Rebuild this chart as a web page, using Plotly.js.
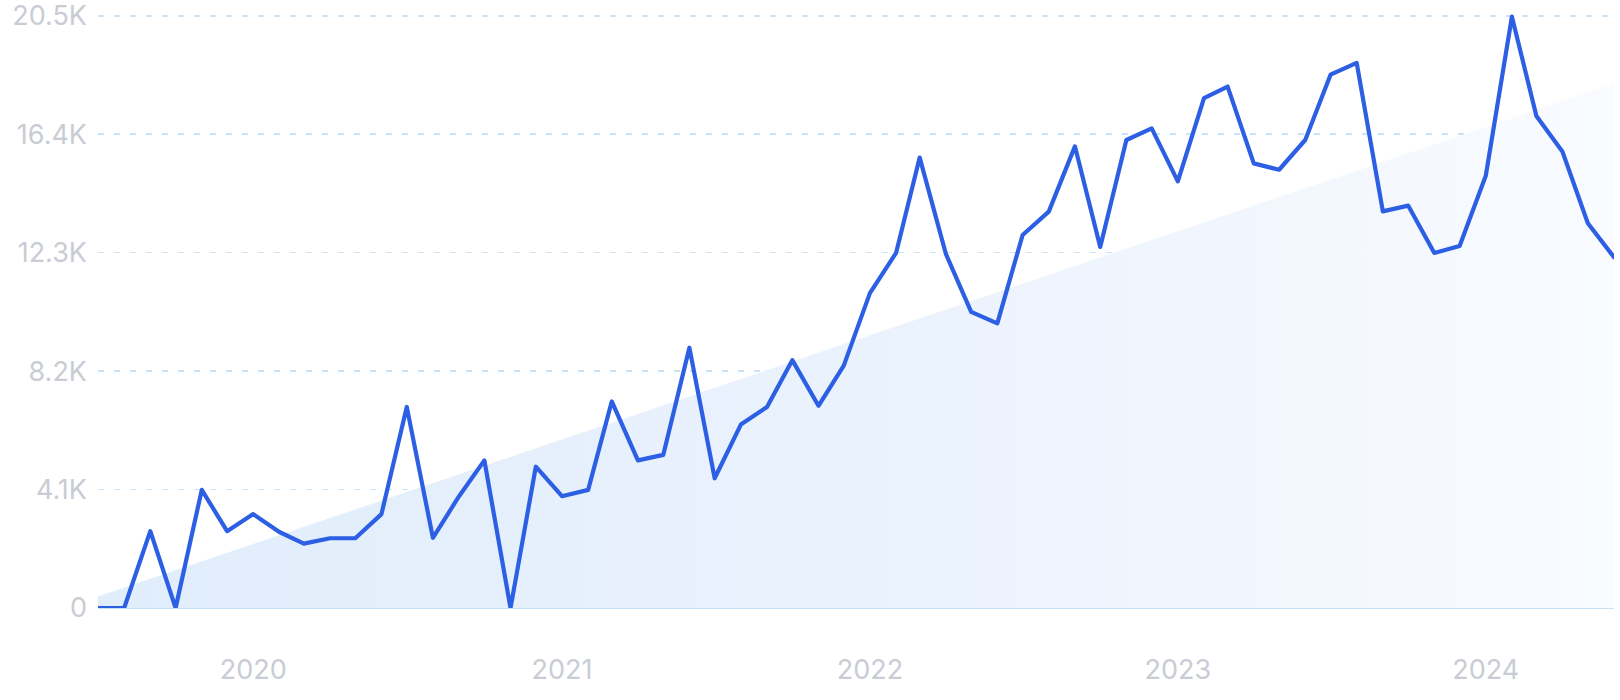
<!DOCTYPE html>
<html>
<head>
<meta charset="utf-8">
<script src="https://cdn.plot.ly/plotly-3.0.1.min.js"></script>
<style>
  html, body { margin: 0; padding: 0; background: #ffffff; }
  #chart { width: 1620px; height: 700px; }
  #chart .scatterlayer .js-line { stroke-linejoin: round; stroke-linecap: round; }
</style>
</head>
<body>
<div id="chart"></div>
<script>
// Monthly search volume (Jul 2019 – Jun 2024)
const months = [
  '2019-07-01','2019-08-01','2019-09-01','2019-10-01','2019-11-01','2019-12-01',
  '2020-01-01','2020-02-01','2020-03-01','2020-04-01','2020-05-01','2020-06-01',
  '2020-07-01','2020-08-01','2020-09-01','2020-10-01','2020-11-01','2020-12-01',
  '2021-01-01','2021-02-01','2021-03-01','2021-04-01','2021-05-01','2021-06-01',
  '2021-07-01','2021-08-01','2021-09-01','2021-10-01','2021-11-01','2021-12-01',
  '2022-01-01','2022-02-01','2022-03-01','2022-04-01','2022-05-01','2022-06-01',
  '2022-07-01','2022-08-01','2022-09-01','2022-10-01','2022-11-01','2022-12-01',
  '2023-01-01','2023-02-01','2023-03-01','2023-04-01','2023-05-01','2023-06-01',
  '2023-07-01','2023-08-01','2023-09-01','2023-10-01','2023-11-01','2023-12-01',
  '2024-01-01','2024-02-01','2024-03-01','2024-04-01','2024-05-01','2024-06-01'
];
const volume = [
  0, 0, 2660, 0, 4090, 2660,
  3250, 2630, 2230, 2415, 2415, 3250,
  6960, 2430, 3870, 5110, 0, 4890,
  3870, 4090, 7150, 5110, 5300, 9010,
  4490, 6350, 6960, 8580, 7000, 8390,
  10900, 12290, 15590, 12260, 10250, 9850,
  12910, 13720, 15980, 12500, 16200, 16600,
  14770, 17650, 18050, 15390, 15170, 16200,
  18460, 18870, 13730, 13930, 12290, 12530,
  14960, 20470, 17030, 15790, 13320, 12140
];
// Trend line endpoints
const trendX = ['2019-07-01', '2024-06-01'];
const trendY = [400, 18150];
// Axis ticks
const yTickVals = [0, 4100, 8200, 12300, 16400, 20500];
const yTickText = ['0', '4.1K', '8.2K', '12.3K', '16.4K', '20.5K'];
const xTickVals = ['2020-01-01', '2021-01-01', '2022-01-01', '2023-01-01', '2024-01-01'];
const xTickText = ['2020', '2021', '2022', '2023', '2024'];

const fontFamily = 'Inter, Lato, "Noto Sans", sans-serif';
const labelColor = '#c9ccd4';

const traces = [
  {
    type: 'scatter',
    mode: 'lines',
    x: trendX,
    y: trendY,
    line: { width: 0, color: 'rgba(0,0,0,0)' },
    fill: 'tozeroy',
    fillcolor: '#e6f0fc',
    fillgradient: {
      type: 'horizontal',
      colorscale: [[0, '#e0edfb'], [0.5, '#eaf2fd'], [1, '#f9fbff']]
    },
    hoverinfo: 'skip',
    showlegend: false
  },
  {
    type: 'scatter',
    mode: 'lines',
    x: months,
    y: volume,
    line: { color: '#2d5fe4', width: 4.2, shape: 'linear' },
    showlegend: false
  }
];

const layout = {
  width: 1620,
  height: 700,
  margin: { l: 98, r: 6, t: 10, b: 92 },
  paper_bgcolor: '#ffffff',
  plot_bgcolor: '#ffffff',
  showlegend: false,
  font: { family: fontFamily, color: labelColor, size: 27 },
  xaxis: {
    type: 'date',
    range: ['2019-07-01', '2024-06-01'],
    tickmode: 'array',
    tickvals: xTickVals,
    ticktext: xTickText,
    showgrid: false,
    zeroline: false,
    showline: false,
    ticks: '',
    ticklabelstandoff: 43,
    tickfont: { family: fontFamily, size: 27, color: labelColor },
    fixedrange: true
  },
  yaxis: {
    range: [0, 20700],
    tickmode: 'array',
    tickvals: yTickVals,
    ticktext: yTickText,
    showgrid: true,
    gridcolor: '#c8e4fa',
    gridwidth: 1.5,
    griddash: '6px,10px',
    zeroline: true,
    zerolinecolor: '#c6e2f8',
    zerolinewidth: 1.6,
    showline: false,
    ticks: '',
    ticklabelstandoff: 10,
    ticklabeloverflow: 'allow',
    tickfont: { family: fontFamily, size: 27, color: labelColor },
    fixedrange: true
  }
};

Plotly.newPlot('chart', traces, layout, { displayModeBar: false, staticPlot: true });
</script>
</body>
</html>
